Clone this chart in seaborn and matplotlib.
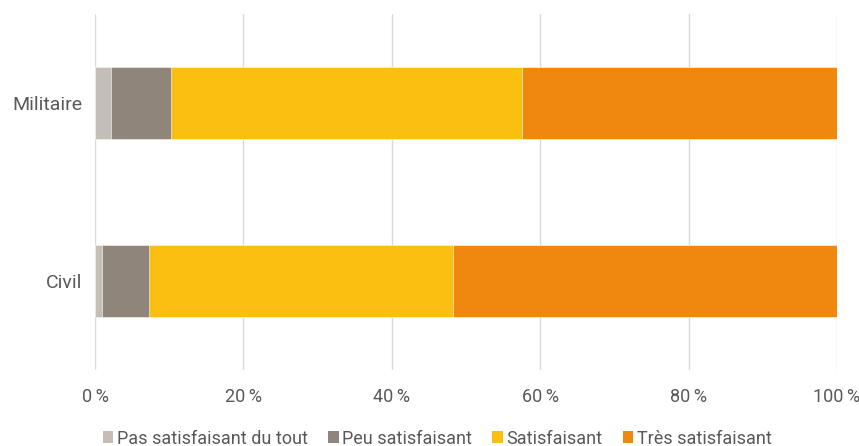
import pandas as pd
import numpy as np
import matplotlib.pyplot as plt
import seaborn as sns
from matplotlib.patches import Patch

# Data (percent of respondents)
categories = ['Militaire', 'Civil']
series = ['Pas satisfaisant du tout', 'Peu satisfaisant', 'Satisfaisant', 'Très satisfaisant']
pas_satisfaisant = [2.1, 0.9]
peu_satisfaisant = [8.2, 6.4]
satisfaisant = [47.2, 40.9]
tres_satisfaisant = [42.5, 51.8]
colors = ['#c5beb8', '#8f857a', '#fbbf12', '#f0870f']
ticks = [0, 20, 40, 60, 80, 100]
tick_labels = ['0\u202f%', '20\u202f%', '40\u202f%', '60\u202f%', '80\u202f%', '100\u202f%']

sns.set_theme(style='white')
plt.rcParams['font.family'] = ['Roboto', 'DejaVu Sans']

df = pd.DataFrame({'cat': categories,
                   series[0]: pas_satisfaisant,
                   series[1]: peu_satisfaisant,
                   series[2]: satisfaisant,
                   series[3]: tres_satisfaisant})
cum = df[series].cumsum(axis=1)
cum['cat'] = df['cat']

fig = plt.figure(figsize=(8.59, 4.46), dpi=100)
ax = fig.add_axes([0.1106, 0.170, 0.8638, 0.799])

# draw widest cumulative layer first so narrower ones sit on top
for name, col in reversed(list(zip(series, colors))):
    sns.barplot(data=cum, x=name, y='cat', order=categories, color=col,
                saturation=1, width=0.4, edgecolor='white', linewidth=0.4,
                ax=ax, zorder=3)

ax.set_xlim(0, 100)
ax.set_ylim(1.5, -0.5)
ax.set_xticks(ticks)
ax.set_xticklabels(tick_labels)
ax.set_xlabel('')
ax.set_ylabel('')
ax.grid(axis='x', color='#d9d9d9', linewidth=1, zorder=0)
ax.grid(axis='y', visible=False)
for s in ax.spines.values():
    s.set_visible(False)
ax.tick_params(axis='both', length=0, colors='#595959')
ax.tick_params(axis='x', pad=13, labelsize=13)
ax.tick_params(axis='y', pad=9, labelsize=14)

handles = [Patch(facecolor=c, edgecolor='none') for c in colors]
fig.legend(handles, series, loc='lower center', ncol=4, frameon=False,
           bbox_to_anchor=(0.509, -0.04), fontsize=13, handlelength=0.6,
           handleheight=0.6, handletextpad=0.2, columnspacing=1.1,
           labelcolor='#595959')

fig.savefig('out.png', dpi=100)
